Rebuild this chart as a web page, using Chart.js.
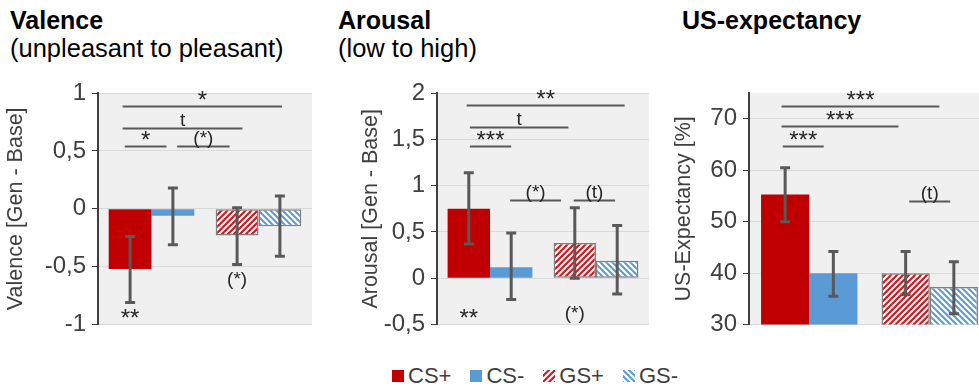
<!DOCTYPE html>
<html>
<head>
<meta charset="utf-8">
<script src="https://cdn.jsdelivr.net/npm/chart.js@4.4.1/dist/chart.umd.min.js"></script>
<style>
  html, body { margin: 0; padding: 0; background: #fff; }
  body { width: 979px; height: 388px; overflow: hidden; position: relative; font-family: "Liberation Sans", Arial, sans-serif; }
  canvas.panel { position: absolute; top: 0; }
  .title { position: absolute; top: 6px; font-size: 25.5px; line-height: 28px; color: #000; white-space: nowrap; }
  .title b { display: block; font-size: 25px; }
  #legend { position: absolute; top: 364px; left: 392px; display: flex; align-items: center; font-size: 22px; line-height: 24px; color: #404040; }
  #legend span.item { display: flex; align-items: center; margin-right: 19px; }
  #legend canvas { margin-right: 4px; }
</style>
</head>
<body>
<div class="title" style="left:10px"><b>Valence</b>(unpleasant to pleasant)</div>
<div class="title" style="left:338px"><b>Arousal</b>(low to high)</div>
<div class="title" style="left:682px"><b>US-expectancy</b></div>

<canvas id="valence" class="panel" width="320" height="345" style="left:0"></canvas>
<canvas id="arousal" class="panel" width="330" height="345" style="left:320px"></canvas>
<canvas id="expect" class="panel" width="340" height="345" style="left:650px"></canvas>
<div id="legend"></div>

<script>
const groups = ['CS', 'GS'];
const seriesNames = ['CS+', 'CS-', 'GS+', 'GS-'];
const seriesGroup = [0, 0, 1, 1];

const valenceMean = [-0.52, -0.06, -0.23, -0.15];
const valenceLow = [-0.81, -0.31, -0.48, -0.41];
const valenceHigh = [-0.24, 0.18, 0.01, 0.11];

const arousalMean = [0.75, 0.12, 0.38, 0.19];
const arousalLow = [0.37, -0.23, 0.0, -0.17];
const arousalHigh = [1.14, 0.49, 0.76, 0.57];

const expectMean = [55.3, 40.0, 40.0, 37.3];
const expectLow = [50.0, 35.5, 35.8, 32.1];
const expectHigh = [60.5, 44.2, 44.2, 42.2];

// brackets: [from, to, level, label], x in category units
const valenceSig = [[-0.27, 1.22, 0.89, '*'], [-0.27, 0.85, 0.70, 't'], [-0.25, 0.14, 0.54, '*'], [0.24, 0.73, 0.54, '(*)']];
const arousalSig = [[-0.22, 1.27, 1.87, '**'], [-0.19, 0.74, 1.63, 't'], [-0.19, 0.2, 1.43, '***'], [0.19, 0.67, 0.84, '(*)'], [0.79, 1.18, 0.84, '(t)']];
const expectSig = [[-0.23, 1.08, 72.5, '***'], [-0.23, 0.74, 68.5, '***'], [-0.22, 0.12, 64.7, '***'], [0.83, 1.17, 54.1, '(t)']];

// labels under a bar: [series, level, label]
const valenceMarks = [[0, -1.01, '**'], [2, -0.66, '(*)']];
const arousalMarks = [[0, -0.51, '**'], [2, -0.44, '(*)']];
const expectMarks = [];

const FONT = '"Liberation Sans", Arial, sans-serif';
const red = '#c00000', blue = '#5b9bd5';

function hatch(color, rising, bg) {
  const s = 6, c = document.createElement('canvas');
  c.width = c.height = s;
  const g = c.getContext('2d');
  g.fillStyle = bg || '#fff';
  g.fillRect(0, 0, s, s);
  g.strokeStyle = color;
  g.lineWidth = 2;
  g.beginPath();
  if (rising) {
    g.moveTo(0, s); g.lineTo(s, 0);
    g.moveTo(-1, 1); g.lineTo(1, -1);
    g.moveTo(s - 1, s + 1); g.lineTo(s + 1, s - 1);
  } else {
    g.moveTo(0, 0); g.lineTo(s, s);
    g.moveTo(-1, s - 1); g.lineTo(1, s + 1);
    g.moveTo(s - 1, -1); g.lineTo(s + 1, 1);
  }
  g.stroke();
  return g.createPattern(c, 'repeat');
}

const fills = [red, blue, hatch('#dc0f16', true), hatch(blue, false)];
const borders = ['rgba(0,0,0,0)', 'rgba(0,0,0,0)', '#7f7f7f', '#7f7f7f'];
const borderWidths = [0, 0, 1.5, 1.5];

const extras = {
  id: 'extras',
  beforeDraw(chart) {
    const { ctx, chartArea: a } = chart;
    ctx.save();
    ctx.fillStyle = '#f0f0f0';
    ctx.fillRect(a.left, a.top, a.right - a.left, a.bottom - a.top);
    ctx.restore();
  },
  afterDatasetsDraw(chart, args, opts) {
    const { ctx, scales: { x, y } } = chart;
    const barX = i => chart.getDatasetMeta(i).data[seriesGroup[i]].x;
    // asterisk-only labels use a bigger font and sit lower
    const putLabel = (label, px, py, above) => {
      const stars = /^\*+$/.test(label);
      ctx.font = (stars ? '24px ' : '19px ') + FONT;
      ctx.fillText(label, px, above ? py + (stars ? 1 : -3) : py);
    };
    ctx.save();
    // error bars
    ctx.strokeStyle = '#595959';
    ctx.lineWidth = 3;
    opts.low.forEach((lo, i) => {
      const bx = barX(i);
      const y1 = y.getPixelForValue(lo), y2 = y.getPixelForValue(opts.high[i]);
      ctx.beginPath();
      ctx.moveTo(bx, y1); ctx.lineTo(bx, y2);
      ctx.moveTo(bx - 5, y1); ctx.lineTo(bx + 5, y1);
      ctx.moveTo(bx - 5, y2); ctx.lineTo(bx + 5, y2);
      ctx.stroke();
    });
    // significance brackets
    ctx.lineWidth = 2;
    ctx.fillStyle = '#262626';
    ctx.textAlign = 'center';
    ctx.textBaseline = 'alphabetic';
    opts.sig.forEach(([from, to, level, label]) => {
      const py = Math.round(y.getPixelForValue(level)) + 0.5;
      const x1 = x.getPixelForValue(from), x2 = x.getPixelForValue(to);
      ctx.beginPath();
      ctx.moveTo(x1, py); ctx.lineTo(x2, py);
      ctx.stroke();
      putLabel(label, (x1 + x2) / 2, py, true);
    });
    opts.marks.forEach(([s, level, label]) => {
      putLabel(label, barX(s), y.getPixelForValue(level), false);
    });
    ctx.restore();
  }
};

function decimalComma(v) {
  return String(v).replace('.', ',');
}

function makePanel(id, cfg) {
  const datasets = seriesNames.map((name, i) => ({
    label: name,
    data: groups.map((g, gi) => gi === seriesGroup[i] ? cfg.mean[i] : null),
    backgroundColor: fills[i],
    borderColor: borders[i],
    borderWidth: borderWidths[i],
    borderSkipped: false,
    categoryPercentage: 0.8,
    barPercentage: 1.0,
    skipNull: true
  }));
  return new Chart(document.getElementById(id), {
    type: 'bar',
    data: { labels: groups, datasets },
    plugins: [extras],
    options: {
      responsive: false,
      animation: false,
      devicePixelRatio: 1,
      layout: { padding: { top: 93, bottom: 16.5, left: 0, right: cfg.padRight } },
      plugins: {
        legend: { display: false },
        tooltip: { enabled: false },
        extras: { low: cfg.low, high: cfg.high, sig: cfg.sig, marks: cfg.marks }
      },
      scales: {
        x: { display: false },
        y: {
          min: cfg.min,
          max: cfg.max,
          afterFit: s => { s.width = cfg.axisWidth; },
          ticks: {
            stepSize: cfg.step,
            includeBounds: false,
            padding: 6,
            color: '#404040',
            font: { family: FONT, size: 24 },
            callback: decimalComma
          },
          grid: { color: '#d9d9d9', tickColor: '#404040', tickLength: 6, lineWidth: 1 },
          border: { display: true, color: '#404040', width: 2 },
          title: {
            display: true,
            text: cfg.title,
            color: '#404040',
            font: { family: FONT, size: 21.5 },
            padding: { top: cfg.titlePad, bottom: 0 }
          }
        }
      }
    }
  });
}

makePanel('valence', {
  mean: valenceMean, low: valenceLow, high: valenceHigh, sig: valenceSig, marks: valenceMarks,
  min: -1, max: 1, step: 0.5, title: 'Valence [Gen - Base]', axisWidth: 98, titlePad: 3, padRight: 8
});
makePanel('arousal', {
  mean: arousalMean, low: arousalLow, high: arousalHigh, sig: arousalSig, marks: arousalMarks,
  min: -0.5, max: 2, step: 0.5, title: 'Arousal [Gen - Base]', axisWidth: 117, titlePad: 38, padRight: 1
});
makePanel('expect', {
  mean: expectMean, low: expectLow, high: expectHigh, sig: expectSig, marks: expectMarks,
  min: 30, max: 75, step: 10, title: 'US-Expectancy [%]', axisWidth: 99, titlePad: 21, padRight: 0
});

// legend
const legend = document.getElementById('legend');
seriesNames.forEach((name, i) => {
  const item = document.createElement('span');
  item.className = 'item';
  const sw = document.createElement('canvas');
  sw.width = sw.height = 12;
  const g = sw.getContext('2d');
  g.fillStyle = i < 2 ? fills[i] : hatch(i === 2 ? '#dc0f16' : blue, i === 2);
  g.fillRect(0, 0, 12, 12);
  item.appendChild(sw);
  item.appendChild(document.createTextNode(name));
  legend.appendChild(item);
});
</script>
</body>
</html>
